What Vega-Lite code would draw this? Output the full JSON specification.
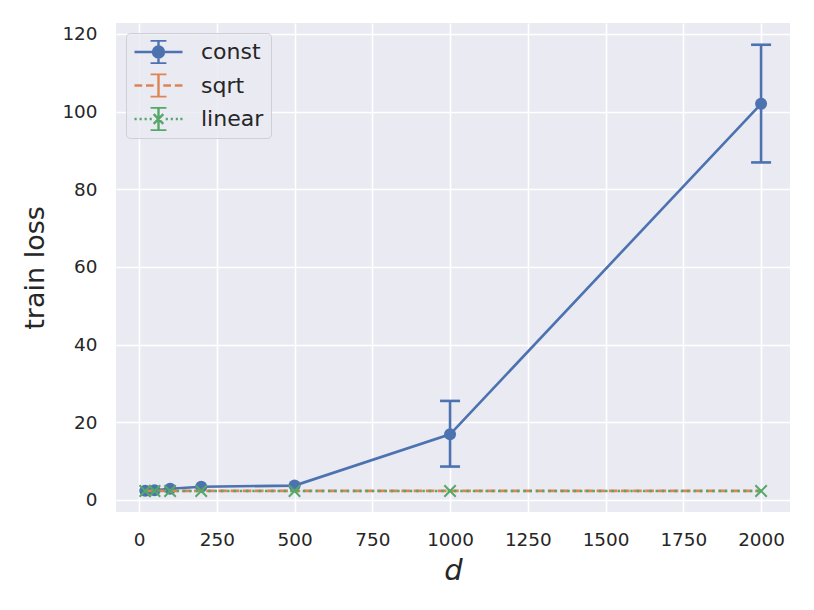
{
  "$schema": "https://vega.github.io/schema/vega-lite/v6.json",
  "width": 674,
  "height": 489,
  "autosize": {"type": "none"},
  "padding": {"left": 116, "top": 23, "right": 24, "bottom": 98},
  "background": "white",
  "config": {
    "view": {"fill": "#EAEAF2", "stroke": null},
    "font": "DejaVu Sans",
    "axis": {
      "grid": true, "gridColor": "white", "gridWidth": 1.6,
      "domain": false, "ticks": false, "tickSize": 0,
      "labelFont": "DejaVu Sans", "labelFontSize": 18.4, "labelColor": "#262626",
      "titleFont": "DejaVu Sans", "titleFontSize": 27, "titleColor": "#262626", "titleFontWeight": "normal"
    }
  },
  "data": {
    "values": [
      {"series": "const", "d": 20, "loss": 2.4},
      {"series": "const", "d": 50, "loss": 2.5},
      {"series": "const", "d": 100, "loss": 2.9},
      {"series": "const", "d": 200, "loss": 3.4},
      {"series": "const", "d": 500, "loss": 3.7},
      {"series": "const", "d": 1000, "loss": 16.9, "lo": 8.6, "hi": 25.5},
      {"series": "const", "d": 2000, "loss": 102, "lo": 86.9, "hi": 117.2},
      {"series": "sqrt", "d": 20, "loss": 2.35},
      {"series": "sqrt", "d": 50, "loss": 2.35},
      {"series": "sqrt", "d": 100, "loss": 2.35},
      {"series": "sqrt", "d": 200, "loss": 2.35},
      {"series": "sqrt", "d": 500, "loss": 2.35},
      {"series": "sqrt", "d": 1000, "loss": 2.35},
      {"series": "sqrt", "d": 2000, "loss": 2.35},
      {"series": "linear", "d": 20, "loss": 2.3},
      {"series": "linear", "d": 50, "loss": 2.3},
      {"series": "linear", "d": 100, "loss": 2.3},
      {"series": "linear", "d": 200, "loss": 2.3},
      {"series": "linear", "d": 500, "loss": 2.3},
      {"series": "linear", "d": 1000, "loss": 2.3},
      {"series": "linear", "d": 2000, "loss": 2.3}
    ]
  },
  "encoding": {
    "x": {
      "field": "d", "type": "quantitative",
      "scale": {"domain": [-74, 2093], "nice": false, "zero": false},
      "axis": {"values": [0, 250, 500, 750, 1000, 1250, 1500, 1750, 2000], "format": "d", "title": "d", "titleFontStyle": "italic", "titleFontSize": 29, "labelPadding": 18, "titlePadding": 8}
    },
    "y": {
      "field": "loss", "type": "quantitative",
      "scale": {"domain": [-3.1, 122.8], "nice": false, "zero": false},
      "axis": {"values": [0, 20, 40, 60, 80, 100, 120], "title": "train loss", "labelPadding": 19, "titlePadding": 12}
    },
    "color": {
      "field": "series", "type": "nominal",
      "scale": {"domain": ["const", "sqrt", "linear"], "range": ["#4C72B0", "#DD8452", "#55A868"]},
      "legend": {
        "title": null, "orient": "top-left", "offset": 10,
        "fillColor": "rgba(234,234,242,0.8)", "strokeColor": "#cfcfd6", "cornerRadius": 4,
        "padding": 7, "labelFontSize": 22, "labelFont": "DejaVu Sans", "labelColor": "#262626",
        "labelOffset": 17, "symbolSize": 2304, "symbolStrokeWidth": 2.4, "clipHeight": 24,
        "rowPadding": 9.5, "symbolOpacity": 1,
        "encode": {
          "symbols": {
            "update": {
              "shape": {"signal": "datum.value == 'const' ? 'M-1,0H1M0,-0.48V0.48M-0.33,-0.48H0.33M-0.33,0.48H0.33M-0.23,0A0.23,0.23,0,1,0,0.23,0A0.23,0.23,0,1,0,-0.23,0Z' : datum.value == 'sqrt' ? 'M-1,0H-0.68M-0.52,0H-0.2M-0.04,0H0.04M0.2,0H0.52M0.68,0H1M0,-0.48V0.48M-0.33,-0.48H0.33M-0.33,0.48H0.33' : 'M-1,0H-0.91M-0.79,0H-0.7M-0.58,0H-0.49M-0.37,0H-0.28M0.3,0H0.39M0.51,0H0.6M0.72,0H0.81M0.91,0H1M0,-0.48V0.48M-0.33,-0.48H0.33M-0.33,0.48H0.33M-0.2,-0.2L0.2,0.2M-0.2,0.2L0.2,-0.2'"},
              "fill": {"signal": "datum.value == 'const' ? '#4C72B0' : 'transparent'"},
              "strokeDash": {"value": []},
              "opacity": {"value": 1}
            }
          }
        }
      }
    }
  },
  "layer": [
    {
      "transform": [{"filter": "datum.series == 'const'"}],
      "mark": {"type": "line", "strokeWidth": 2.6}
    },
    {
      "transform": [{"filter": "isValid(datum.hi)"}],
      "mark": {"type": "rule", "strokeWidth": 2.6},
      "encoding": {"y": {"field": "lo", "type": "quantitative", "title": "train loss"}, "y2": {"field": "hi"}}
    },
    {
      "transform": [{"filter": "isValid(datum.hi)"}],
      "mark": {"type": "tick", "orient": "horizontal", "size": 20, "thickness": 2.6, "opacity": 1},
      "encoding": {"y": {"field": "lo", "type": "quantitative", "title": "train loss"}}
    },
    {
      "transform": [{"filter": "isValid(datum.hi)"}],
      "mark": {"type": "tick", "orient": "horizontal", "size": 20, "thickness": 2.6, "opacity": 1},
      "encoding": {"y": {"field": "hi", "type": "quantitative", "title": "train loss"}}
    },
    {
      "transform": [{"filter": "datum.series == 'const'"}],
      "mark": {"type": "point", "shape": "circle", "filled": true, "size": 144, "opacity": 1}
    },
    {
      "transform": [{"filter": "datum.series == 'sqrt'"}],
      "mark": {"type": "line", "strokeWidth": 2.6, "strokeDash": [8.5, 3.7]}
    },
    {
      "transform": [{"filter": "datum.series == 'linear'"}],
      "mark": {"type": "line", "strokeWidth": 2.6, "strokeDash": [2.4, 3.9]}
    },
    {
      "transform": [{"filter": "datum.series == 'linear'"}],
      "mark": {"type": "point", "shape": "M-1,-1L1,1M-1,1L1,-1", "filled": false, "size": 130, "strokeWidth": 2, "opacity": 1}
    }
  ]
}
